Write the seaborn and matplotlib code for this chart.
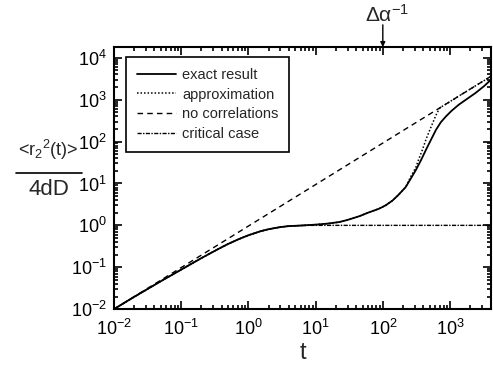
import numpy as np
import pandas as pd
import seaborn as sns
import matplotlib.pyplot as plt
from matplotlib.ticker import LogLocator, NullFormatter
from matplotlib.lines import Line2D

sns.set_style('ticks')
plt.rcParams['font.family'] = ['Liberation Sans', 'DejaVu Sans']
plt.rcParams['mathtext.default'] = 'regular'

# values
t_exact = [0.01, 0.02, 0.05, 0.1, 0.15, 0.2, 0.3, 0.4, 0.5, 0.7, 1.0, 1.5, 2, 3, 4, 6,
           10, 15, 22.5, 30, 45, 60, 88, 110, 139, 170, 219, 260, 309, 370, 437, 520,
           617, 730, 871, 1050, 1350, 1800, 2400, 3200, 4070]
y_exact = [0.01, 0.0196, 0.0465, 0.0875, 0.127, 0.165, 0.235, 0.30, 0.36, 0.46, 0.58,
           0.72, 0.81, 0.91, 0.96, 0.99, 1.04, 1.1, 1.2, 1.35, 1.66, 2.0, 2.5, 3.0, 3.9,
           5.3, 8.2, 13, 20.7, 36, 63, 110, 190, 290, 400, 540, 760, 1050, 1450, 2100, 3000]

t_approx = [0.01, 0.02, 0.05, 0.1, 0.15, 0.2, 0.3, 0.4, 0.5, 0.7, 1.0, 1.5, 2, 3, 4, 6,
            10, 15, 22.5, 30, 45, 60, 88, 110, 139, 170, 219, 260, 309, 347, 390, 437,
            490, 550, 620, 692, 760, 900, 1350, 2400, 4070]
y_approx = [0.01, 0.0196, 0.0465, 0.0875, 0.127, 0.165, 0.235, 0.30, 0.36, 0.46, 0.58,
            0.72, 0.81, 0.91, 0.96, 0.99, 1.04, 1.1, 1.2, 1.35, 1.66, 2.0, 2.5, 3.0, 3.9,
            5.3, 8.2, 14.5, 24, 40, 65, 110, 175, 275, 430, 610, 690, 810, 1220, 2150, 3600]

t_nocorr = [0.01, 4070]
y_nocorr = [0.01, 3630]

t_crit = [0.01, 0.02, 0.05, 0.1, 0.15, 0.2, 0.3, 0.4, 0.5, 0.7, 1.0, 1.5, 2, 3, 4, 6,
          8, 4070]
y_crit = [0.01, 0.0196, 0.0465, 0.0875, 0.127, 0.165, 0.235, 0.30, 0.36, 0.46, 0.58,
          0.72, 0.81, 0.91, 0.96, 0.99, 1.0, 1.0]

labels = ['exact result', 'approximation', 'no correlations', 'critical case']
styles = ['-', (0, (1, 1.3)), (0, (4, 3)), (0, (3, 1, 1, 1))]
widths = [1.3, 1.1, 1.0, 1.0]

fig = plt.figure(figsize=(4.93, 3.65), dpi=100)
ax = fig.add_axes([0.231, 0.153, 0.765, 0.718])

series = [(t_exact, y_exact), (t_approx, y_approx), (t_nocorr, y_nocorr), (t_crit, y_crit)]
for (tt, yy), lab, ls, lw in zip(series, labels, styles, widths):
    df = pd.DataFrame({'t': tt, 'y': yy})
    sns.lineplot(data=df, x='t', y='y', ax=ax, color='black', linestyle=ls,
                 linewidth=lw, estimator=None, sort=False, legend=False)

ax.set_xscale('log')
ax.set_yscale('log')
ax.set_xlim(0.01, 4070)
ax.set_ylim(0.01, 1.8e4)
ax.set_xlabel('t', fontsize=17, labelpad=2)
ax.set_ylabel('')

ax.xaxis.set_major_locator(LogLocator(base=10, numticks=20))
ax.yaxis.set_major_locator(LogLocator(base=10, numticks=20))
ax.xaxis.set_minor_locator(LogLocator(base=10, subs=np.arange(2, 10), numticks=20))
ax.yaxis.set_minor_locator(LogLocator(base=10, subs=np.arange(2, 10), numticks=20))
ax.yaxis.set_minor_formatter(NullFormatter())
ax.xaxis.set_minor_formatter(NullFormatter())
ax.tick_params(which='both', direction='in', top=True, right=True, width=1.2,
               labelsize=13, colors='black')
ax.tick_params(which='major', length=6)
ax.tick_params(which='minor', length=3)
ax.tick_params(axis='x', which='major', pad=7)
ax.tick_params(axis='y', which='major', pad=5)
for s in ax.spines.values():
    s.set_linewidth(1.5)
    s.set_color('black')

handles = [Line2D([], [], color='black', linestyle=ls, linewidth=lw)
           for ls, lw in zip(styles, widths)]
leg = ax.legend(handles, labels, loc='upper left', fontsize=10.5, frameon=True,
                fancybox=False, edgecolor='black', framealpha=1, handlelength=2.7,
                handletextpad=0.4, labelspacing=0.38, borderpad=0.75, borderaxespad=0,
                bbox_to_anchor=(0.032, 0.962))
leg.get_frame().set_linewidth(1.2)

# y label as a fraction
fig.text(0.098, 0.59, '<r$_2$$^2$(t)>', fontsize=13, ha='center', va='center')
fig.add_artist(Line2D([0.032, 0.166], [0.527, 0.527], color='black', linewidth=1.2))
fig.text(0.100, 0.48, '4dD', fontsize=16, ha='center', va='center')

# marker on top axis
ax.annotate('', xy=(100, 1.8e4), xytext=(0, 16), textcoords='offset points',
            arrowprops=dict(arrowstyle='-|>', color='black', lw=1.0,
                            mutation_scale=7, shrinkA=0, shrinkB=0))
ax.annotate('Δα$^{-1}$', xy=(100, 1.8e4), xytext=(3, 18), textcoords='offset points',
            ha='center', va='baseline', fontsize=15)

fig.savefig('out.png', dpi=100)
